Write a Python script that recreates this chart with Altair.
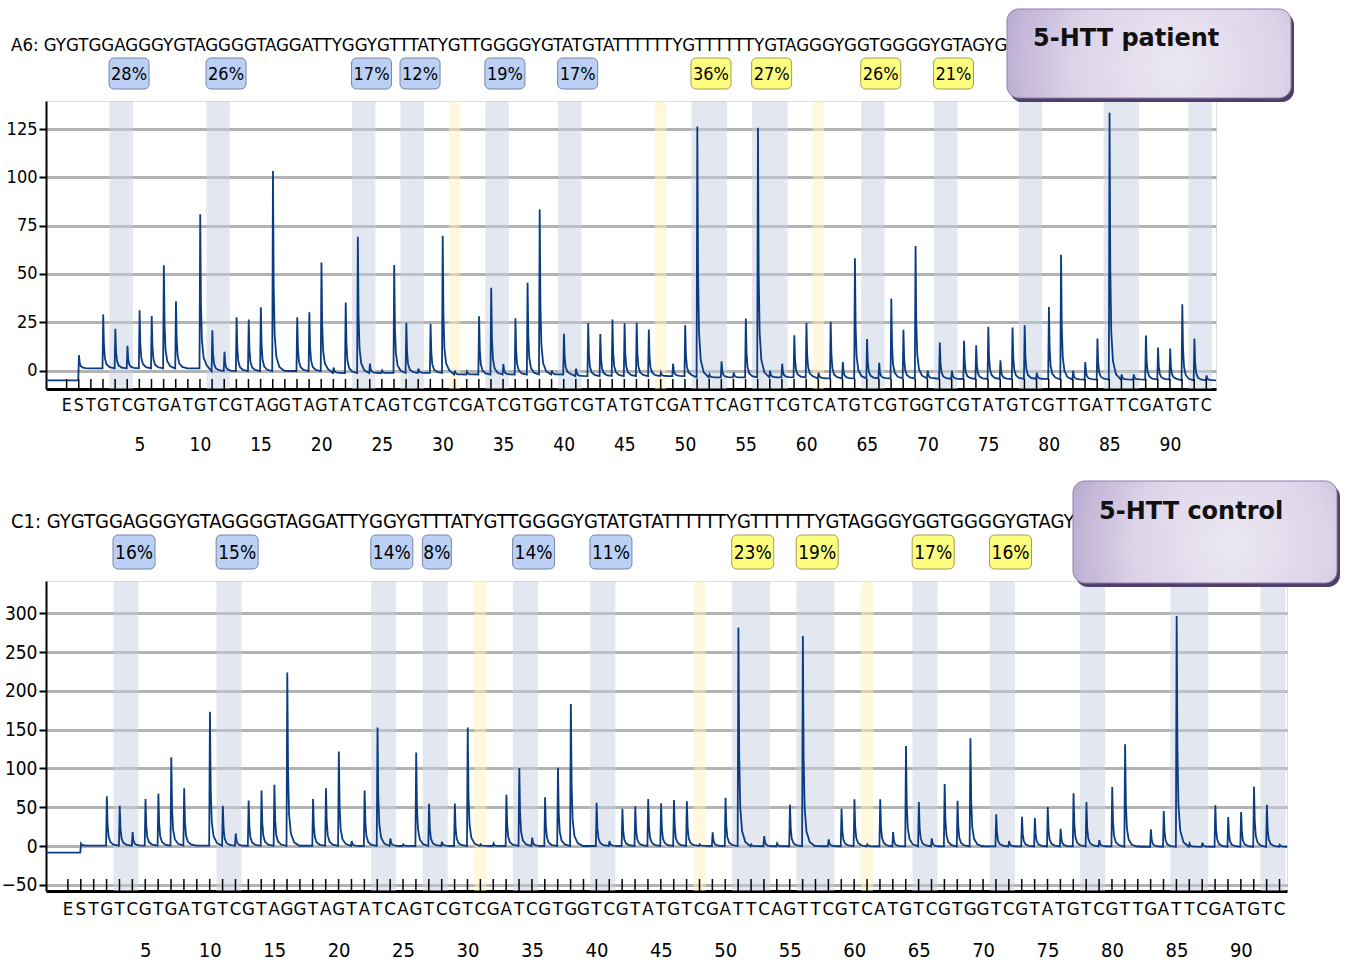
import altair as alt
import pandas as pd

NARROW = "DejaVu Sans Condensed, Liberation Sans Narrow, Roboto, sans-serif"
BOLD = "DejaVu Sans, Verdana, sans-serif"

DISPENSATION = "ESTGTCGTGATGTCGTAGGTAGTATCAGTCGTCGATCGTGGTCGTATGTCGATTCAGTTCGTCATGTCGTGGTCGTATGTCGTTGATTCGATGTC"
SEQ = "GYGTGGAGGGYGTAGGGGTAGGATTYGGYGTTTATYGTTGGGGYGTATGTATTTTTTYGTTTTTTYGTAGGGYGGTGGGGYGTAGYG"

BLUE_BANDS = [(2.5, 4.5), (10.5, 12.5), (22.5, 24.5), (26.5, 28.5), (33.5, 35.5),
              (39.5, 41.5), (50.5, 53.5), (55.5, 58.5), (64.5, 66.5), (70.5, 72.5),
              (77.5, 79.5), (84.5, 87.5), (91.5, 93.5)]
YELLOW_BANDS = [(30.5, 31.5), (47.5, 48.5), (60.5, 61.5)]

TOP_PCT = ["28%", "26%", "17%", "12%", "19%", "17%", "36%", "27%", "26%", "21%"]
BOT_PCT = ["16%", "15%", "14%", "8%", "14%", "11%", "23%", "19%", "17%", "16%"]
PCT_KIND = ["blue"] * 6 + ["yellow"] * 4

# peak tops (signal units) for dispensations 1..93
TOP_PEAKS = [0, 29.1, 21.7, 12.8, 31.2, 28.3, 54.5, 35.9, 0, 80.9,
             20.9, 9.7, 27.6, 26.4, 32.8, 103.3, 0, 27.6, 30.2, 56,
             1.6, 35.2, 69.3, 3.6, 0, 54.7, 24.8, 1, 24.1, 69.8,
             0, -0.5, 28.1, 42.9, 3.4, 27.1, 45.5, 83.4, 0, 19.1,
             1, 24.5, 19, 26.4, 24.5, 24.8, 21.3, -1, 3.6, 23.5,
             126.3, -2, 4.8, -1, 27, 125.6, 0, 3.6, 18.3, 24.7,
             -1, 25.3, 4.5, 58.1, 16.3, 4, 37.2, 21.1, 64.5, 0,
             14.5, 0, 15.4, 13.1, 22.7, 5.4, 22.3, 23.5, -1, 32.9,
             59.9, 0, 4.5, 16.6, 133.4, -2, -2, 18.2, 11.9, 11.4,
             34.4, 16.6, -2.5]
BOT_PEAKS = [0, 64, 52, 18, 60.7, 67.5, 114.5, 74.4, 0, 173,
             52, 16.2, 58.5, 71.4, 79, 223.5, 0, 60.7, 74.4, 121.8,
             6.4, 71.4, 152.6, 9.8, 2, 120.5, 54.3, 5.6, 54.7, 152.6,
             2, 3.4, 66.2, 100.4, 10.7, 62.8, 100.9, 183, 0, 55.6,
             6.4, 47.9, 51.3, 60.7, 55.1, 59.3, 57.6, 2, 17.6, 62.3,
             281.5, 2, 12.9, 3.4, 53.3, 270.7, 0, 8.6, 48.1, 60.2,
             2, 60.2, 18, 129, 56.7, 9.9, 80, 58.4, 139, 0,
             40.8, 6.4, 37.8, 36.1, 50.3, 22.3, 67.9, 56.7, 7.7, 76,
             131, 0, 21.5, 45.1, 296.5, 3, 4.3, 52.4, 37.4, 43.8,
             76.5, 53.3, 1.7]
# baseline per block of 10 dispensations
TOP_BASE = [1.2, -0.2, -1.2, -2.0, -2.8, -3.5, -4.0, -4.3, -4.6, -5.0]
BOT_BASE = [0.5, 0.3, 0.0, 0.0, 0.0, -0.3, -0.5, -0.5, -1.0, -1.0]
TOP_PRE, TOP_S = -5.0, 8.0
BOT_PRE, BOT_S = -8.5, 3.0

TOP_YTICKS = [0, 25, 50, 75, 100, 125]
BOT_YTICKS = [-50, 0, 50, 100, 150, 200, 250, 300]
NUM_TICKS = list(range(5, 91, 5))


def build_trace(peaks, base, pre, s, x0, x1):
    pts = []

    def add(x, y):
        pts.append({"x": x, "y": y, "o": len(pts)})

    def spike(p, b, amp):
        add(p + 0.02, b + amp)
        add(p + 0.08, b + 0.42 * amp)
        add(p + 0.16, b + 0.18 * amp)
        add(p + 0.30, b + 0.07 * amp)
        add(p + 0.55, b + 0.02 * amp)

    add(x0, pre)
    add(-0.04, pre)
    spike(0, base[0], s - base[0])
    for i, h in enumerate(peaks):
        p = i + 1
        b = base[i // 10]
        amp = max(h - b, 0)
        add(p - 0.04, b)
        if amp > 0:
            spike(p, b, amp)
    add(x1, base[-1])
    return pd.DataFrame(pts)


def panel(name, title, peaks, base, pre, s, pct, yticks, W, H, xdom, ydom, cfg, org):
    ppp = W / (xdom[1] - xdom[0])
    xs = alt.Scale(domain=list(xdom), nice=False, zero=False)
    ys = alt.Scale(domain=list(ydom), nice=False, zero=False)
    xax = alt.Axis(values=NUM_TICKS, grid=False, ticks=False, domainColor="black",
                   domainWidth=3, labelFont=NARROW, labelFontSize=cfg["fs_num"],
                   labelColor="black", labelPadding=cfg["num_pad"], title=None,
                   labelOverlap=False)
    yax = alt.Axis(values=yticks, grid=True, gridColor="#b3b3b3", gridWidth=3,
                   tickColor="black", tickWidth=2, tickSize=7, domainColor="black",
                   domainWidth=2, labelFont=NARROW, labelFontSize=cfg["fs_y"],
                   labelColor="black", labelPadding=2, title=None)

    def X(field):
        return alt.X(field, scale=xs, axis=xax)

    bands_df = pd.DataFrame(
        [{"start": a + 0.03, "end": b - 0.03, "kind": "blue"} for a, b in BLUE_BANDS]
        + [{"start": a + 0.03, "end": b - 0.03, "kind": "yellow"} for a, b in YELLOW_BANDS]
    )
    bands = alt.Chart(bands_df).mark_rect(opacity=0.5).encode(
        x=X("start:Q"),
        x2="end:Q",
        y=alt.value(0),
        y2=alt.value(H),
        color=alt.Color("kind:N", scale=alt.Scale(domain=["blue", "yellow"],
                                                   range=["#C7D1E1", "#FFF1B9"]), legend=None),
    )

    tr = build_trace(peaks, base, pre, s, xdom[0], xdom[1])
    line = alt.Chart(tr).mark_line(color="#0B3B80", strokeWidth=1.8).encode(
        x=X("x:Q"),
        y=alt.Y("y:Q", scale=ys, axis=yax),
        order="o:Q",
    )

    tick_df = pd.DataFrame({"p": list(range(-1, 94))})
    ticks = alt.Chart(tick_df).mark_rule(color="black", strokeWidth=1.5).encode(
        x=X("p:Q"),
        y=alt.value(H),
        y2=alt.value(H - cfg["tick_len"]),
    )

    let_df = pd.DataFrame({"p": list(range(-1, 94)), "t": list(DISPENSATION)})
    letters = alt.Chart(let_df).mark_text(font=NARROW, fontSize=cfg["fs_let"], baseline="middle",
                                          color="black").encode(
        x=X("p:Q"),
        y=alt.value(cfg["let_y"]),
        text="t:N",
    )

    head_df = pd.DataFrame({"t": [f"{name}: {SEQ}"]})
    header = alt.Chart(head_df).mark_text(font=NARROW, fontSize=cfg["fs_head"], align="left",
                                          baseline="middle", color="black").encode(
        x=alt.value(-35), y=alt.value(cfg["head_y"]), text="t:N")

    rows = []
    for i, txt in enumerate(pct):
        start = BLUE_BANDS[i][0]
        wpx = cfg["box3"] if len(txt) >= 3 else cfg["box2"]
        end = start + wpx / ppp
        rows.append({"start": start, "end": end, "mid": (start + end) / 2, "t": txt,
                     "kind": PCT_KIND[i]})
    pct_df = pd.DataFrame(rows)
    boxes = alt.Chart(pct_df).mark_rect(cornerRadius=5, strokeWidth=1).encode(
        x=X("start:Q"),
        x2="end:Q",
        y=alt.value(cfg["box_y0"]),
        y2=alt.value(cfg["box_y1"]),
        fill=alt.Fill("kind:N", scale=alt.Scale(domain=["blue", "yellow"],
                                                 range=["#BCD0F5", "#FDFD80"]), legend=None),
        stroke=alt.Stroke("kind:N", scale=alt.Scale(domain=["blue", "yellow"],
                                                     range=["#7585A8", "#A0A050"]), legend=None),
    )
    pct_text = alt.Chart(pct_df).mark_text(font=NARROW, fontSize=cfg["fs_pct"], baseline="middle",
                                           color="black").encode(
        x=X("mid:Q"),
        y=alt.value((cfg["box_y0"] + cfg["box_y1"]) / 2 + 1),
        text="t:N",
    )

    tdf = pd.DataFrame({"t": [title]})
    bx0, bx1, by0, by1 = cfg["title_box"]
    shadow = alt.Chart(tdf).mark_rect(cornerRadius=12, color="#4E4068").encode(
        x=alt.value(bx0 + 3), x2=alt.value(bx1 + 3), y=alt.value(by0 + 4), y2=alt.value(by1 + 4))
    grad = {
        "gradient": "radial",
        "x1": 0.6, "y1": 0.55, "r1": 0.0,
        "x2": 0.6, "y2": 0.55, "r2": 0.75,
        "stops": [{"offset": 0.0, "color": "#ECE8F3"},
                  {"offset": 0.5, "color": "#DCD3E8"},
                  {"offset": 1.0, "color": "#AC9AC7"}],
    }
    tbox = alt.Chart(tdf).mark_rect(cornerRadius=12, fill=grad, stroke="#8E7FAE",
                                    strokeWidth=1).encode(
        x=alt.value(bx0), x2=alt.value(bx1), y=alt.value(by0), y2=alt.value(by1))
    ttext = alt.Chart(tdf).mark_text(font=BOLD, fontWeight="bold", fontSize=cfg["fs_title"],
                                     align="left", baseline="middle", color="#111111").encode(
        x=alt.value(cfg["title_xy"][0]), y=alt.value(cfg["title_xy"][1]), text="t:N")

    layers = [bands, line, ticks, letters, header, boxes, pct_text, shadow, tbox, ttext]
    if org is not None:
        # invisible anchor marking the page's top-left corner (keeps the layout fixed)
        anchor = alt.Chart(tdf).mark_rect(opacity=0).encode(
            x=alt.value(org[0]), x2=alt.value(org[0] + 1),
            y=alt.value(org[1]), y2=alt.value(org[1] + 1))
        layers.append(anchor)
    return alt.layer(*layers).properties(width=W, height=H)


top_cfg = dict(fs_num=19, num_pad=46, fs_y=18, tick_len=10, fs_let=17.5, let_y=305,
               fs_head=18.5, head_y=-56, box3=40, box2=29, box_y0=-43, box_y1=-12, fs_pct=18,
               title_box=(961, 1245, -92, -3), title_xy=(987, -62), fs_title=24)
bot_cfg = dict(fs_num=20, num_pad=49, fs_y=19, tick_len=12, fs_let=18.5, let_y=328,
               fs_head=20, head_y=-59, box3=42, box2=29, box_y0=-46, box_y1=-12, fs_pct=19,
               title_box=(1027, 1291, -100, 2), title_xy=(1053, -69), fs_title=24)

top = panel("A6", "5-HTT patient", TOP_PEAKS, TOP_BASE, TOP_PRE, TOP_S, TOP_PCT, TOP_YTICKS,
            1170, 288, (-2.7, 93.8), (-9.5, 139.5), top_cfg, (-45, -100))
bot = panel("C1", "5-HTT control", BOT_PEAKS, BOT_BASE, BOT_PRE, BOT_S, BOT_PCT, BOT_YTICKS,
            1241, 310, (-2.7, 93.58), (-58, 341.6), bot_cfg, None)

chart = alt.vconcat(top, bot, spacing=192, bounds="flush").properties(
    padding={"left": 0, "top": 0, "right": 5, "bottom": 5}
).configure_view(stroke=None).configure(background="white")

chart.save("out.html", embed_options={"renderer": "svg", "actions": False})
